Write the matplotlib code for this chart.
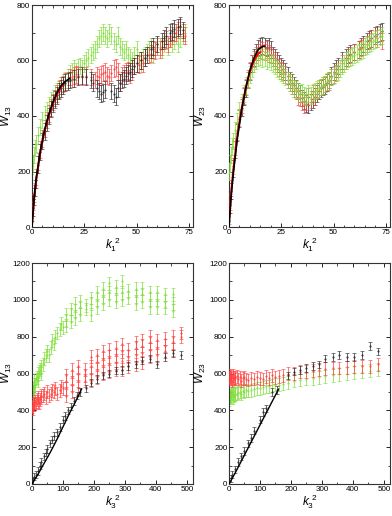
import matplotlib
matplotlib.use("Agg")
import matplotlib.pyplot as plt
from matplotlib.ticker import MultipleLocator

plt.rcParams['font.family'] = ['Liberation Sans', 'DejaVu Sans']
plt.rcParams['mathtext.fontset'] = 'custom'
plt.rcParams['mathtext.it'] = 'Liberation Sans:italic'
plt.rcParams['mathtext.rm'] = 'Liberation Sans'

# ---------------- Top-left: W13 vs k1^2 ----------------
tl_black_x = [0, 0.5, 1, 1.5, 2, 3, 4, 5, 6, 7, 8, 9, 10, 11, 12, 13, 14, 15, 16, 17, 18, 20, 22, 24, 26, 28, 29, 31, 32, 33, 34, 35, 38, 39, 40, 41, 42, 43, 44, 45, 46, 47, 48, 49, 50, 52, 54, 55, 57, 58, 60, 62, 63, 64, 66, 67, 68, 70, 71, 72]
tl_black_y = [20, 70, 110, 140, 170, 225, 270, 310, 345, 375, 400, 425, 445, 460, 475, 490, 500, 510, 520, 525, 530, 535, 540, 545, 540, 530, 520, 500, 490, 480, 485, 495, 490, 480, 470, 500, 520, 530, 535, 545, 555, 560, 570, 580, 590, 600, 610, 620, 640, 650, 660, 670, 680, 690, 700, 705, 715, 720, 725, 710]
tl_red_x = [0, 0.5, 1, 2, 3, 4, 5, 6, 7, 8, 9, 10, 11, 12, 13, 14, 15, 16, 17, 18, 19, 20, 21, 22, 24, 26, 28, 30, 31, 32, 33, 34, 35, 36, 37, 38, 39, 40, 41, 42, 43, 44, 45, 46, 47, 48, 49, 50, 51, 52, 53, 54, 56, 57, 58, 59, 60, 61, 62, 63, 64, 65, 66, 67, 68, 69, 70, 71, 72, 73]
tl_red_y = [50, 90, 120, 180, 235, 280, 320, 355, 385, 410, 430, 450, 465, 480, 495, 510, 515, 525, 530, 540, 535, 545, 550, 545, 540, 545, 540, 530, 545, 540, 550, 555, 560, 545, 540, 555, 570, 575, 560, 520, 545, 555, 560, 565, 550, 560, 580, 590, 585, 600, 590, 610, 620, 625, 640, 635, 650, 640, 650, 670, 675, 660, 680, 690, 700, 700, 710, 720, 700, 690]
tl_green_x = [0, 0.5, 1, 1.5, 2, 3, 4, 5, 6, 7, 8, 9, 10, 11, 12, 13, 14, 15, 16, 17, 18, 19, 20, 21, 22, 23, 24, 25, 26, 27, 28, 29, 30, 31, 32, 33, 34, 35, 36, 37, 38, 39, 40, 41, 42, 43, 44, 45, 46, 47, 48, 49, 50, 51, 52, 53, 54, 55, 56, 57, 58, 59, 60, 61, 62, 63, 64, 65, 66, 67, 68, 69, 70, 71, 72, 73]
tl_green_y = [190, 230, 260, 285, 300, 330, 360, 385, 405, 420, 440, 455, 465, 480, 490, 500, 510, 520, 530, 540, 555, 560, 570, 560, 575, 580, 570, 590, 600, 610, 620, 630, 640, 660, 680, 690, 700, 690, 680, 700, 690, 670, 660, 690, 650, 640, 630, 640, 620, 610, 600, 620, 640, 600, 590, 610, 620, 630, 640, 650, 620, 640, 660, 650, 640, 660, 670, 650, 680, 660, 670, 690, 660, 680, 690, 700]
tl_black_fit_x = [0, 1, 2, 4, 6, 8, 10, 12, 14, 16, 18]
tl_black_fit_y = [0, 105, 175, 275, 350, 405, 450, 485, 510, 525, 535]
tl_red_fit_x = [0, 1, 2, 4, 6, 8, 10, 12, 14, 15]
tl_red_fit_y = [10, 100, 170, 270, 345, 400, 445, 480, 505, 515]

# ---------------- Top-right: W23 vs k1^2 ----------------
tr_black_x = [0, 0.5, 1, 2, 3, 4, 5, 6, 7, 8, 9, 10, 11, 12, 13, 14, 15, 16, 17, 18, 19, 20, 21, 22, 23, 24, 25, 26, 27, 28, 29, 30, 31, 32, 33, 34, 35, 36, 37, 38, 39, 40, 41, 42, 43, 44, 45, 46, 47, 48, 49, 50, 51, 52, 54, 56, 57, 58, 60, 62, 63, 64, 66, 67, 68, 70, 71, 72, 73]
tr_black_y = [20, 80, 130, 210, 280, 340, 390, 430, 470, 500, 530, 560, 590, 610, 630, 645, 650, 655, 650, 645, 650, 640, 620, 610, 600, 590, 580, 570, 560, 545, 530, 520, 510, 500, 490, 480, 465, 455, 445, 440, 450, 460, 470, 480, 490, 500, 505, 510, 520, 530, 545, 560, 570, 580, 600, 610, 620, 625, 630, 640, 650, 660, 670, 675, 680, 690, 695, 700, 705]
tr_red_x = [0, 0.5, 1, 2, 3, 4, 5, 6, 7, 8, 9, 10, 11, 12, 13, 14, 15, 16, 17, 18, 19, 20, 21, 22, 23, 24, 25, 26, 27, 28, 29, 30, 31, 32, 33, 34, 35, 36, 37, 38, 39, 40, 41, 42, 43, 44, 45, 46, 47, 48, 49, 50, 51, 52, 54, 56, 57, 58, 60, 62, 63, 64, 66, 67, 68, 70, 71, 72, 73]
tr_red_y = [40, 90, 140, 220, 290, 345, 395, 440, 475, 505, 535, 565, 590, 605, 620, 630, 640, 635, 630, 640, 625, 620, 610, 600, 590, 575, 565, 560, 550, 530, 520, 510, 500, 490, 470, 465, 450, 440, 450, 470, 460, 480, 470, 490, 500, 505, 510, 515, 520, 525, 540, 550, 555, 570, 590, 600, 610, 620, 630, 640, 645, 650, 660, 670, 680, 690, 680, 690, 670]
tr_green_x = [0, 0.5, 1, 1.5, 2, 3, 4, 5, 6, 7, 8, 9, 10, 11, 12, 13, 14, 15, 16, 17, 18, 19, 20, 21, 22, 23, 24, 25, 26, 27, 28, 29, 30, 31, 32, 33, 34, 35, 36, 37, 38, 39, 40, 41, 42, 43, 44, 45, 46, 47, 48, 49, 50, 51, 52, 53, 54, 55, 56, 57, 58, 59, 60, 61, 62, 63, 64, 65, 66, 67, 68, 69, 70, 71, 72, 73]
tr_green_y = [200, 230, 260, 290, 310, 350, 380, 420, 450, 480, 510, 530, 550, 570, 590, 600, 610, 615, 605, 610, 600, 605, 595, 590, 580, 570, 565, 555, 550, 540, 530, 520, 510, 500, 495, 490, 480, 485, 475, 470, 480, 475, 485, 490, 495, 500, 505, 510, 515, 525, 530, 540, 545, 555, 560, 570, 580, 590, 600, 605, 610, 615, 620, 625, 630, 635, 640, 650, 655, 660, 665, 670, 675, 680, 685, 690]
tr_black_fit_x = [0, 1, 2, 4, 6, 8, 10, 12, 14, 16, 17]
tr_black_fit_y = [0, 110, 190, 320, 420, 500, 565, 610, 640, 650, 652]
tr_red_fit_x = [0, 1, 2, 4, 6, 8, 10, 12, 14, 15]
tr_red_fit_y = [20, 120, 200, 330, 425, 500, 560, 600, 625, 630]

# ---------------- Bottom-left: W13 vs k3^2 ----------------
bl_black_x = [0, 3, 8, 12, 18, 25, 30, 38, 45, 50, 58, 65, 72, 80, 90, 100, 108, 115, 125, 135, 145, 155, 175, 190, 210, 230, 250, 270, 290, 310, 335, 355, 380, 405, 430, 455, 480]
bl_black_y = [10, 20, 40, 50, 70, 100, 120, 150, 170, 190, 220, 240, 260, 280, 310, 350, 370, 400, 420, 450, 480, 500, 520, 550, 570, 590, 600, 615, 620, 640, 650, 670, 680, 650, 690, 710, 700]
bl_black_fit_x = [0, 20, 40, 60, 80, 100, 120, 140, 160]
bl_black_fit_y = [0, 55, 115, 175, 240, 310, 380, 445, 515]
bl_red_x = [0, 2, 4, 6, 8, 10, 12, 15, 18, 20, 22, 25, 28, 30, 35, 40, 45, 50, 55, 60, 65, 70, 75, 80, 90, 95, 100,
            110, 110, 110, 110, 130, 130, 130, 130, 150, 150, 150, 150, 170, 170, 170,
            190, 190, 190, 190, 210, 210, 210, 210, 230, 230, 230, 230, 250, 250, 250, 250,
            270, 270, 270, 270, 290, 290, 290, 290, 310, 310, 310, 335, 335, 335, 335,
            355, 355, 355, 355, 380, 380, 380, 380, 405, 405, 405, 430, 430, 430, 455, 455, 455, 480, 480]
bl_red_y = [420, 430, 410, 440, 430, 450, 440, 460, 450, 470, 440, 460, 480, 470, 480, 490, 470, 500, 480, 490, 510, 500, 520, 490, 510, 530, 520,
            480, 520, 560, 590, 500, 540, 580, 620, 520, 560, 600, 640, 560, 590, 620,
            560, 600, 640, 690, 580, 620, 660, 700, 600, 640, 680, 720, 610, 650, 690, 730,
            620, 660, 700, 740, 620, 670, 720, 760, 640, 690, 730, 650, 700, 740, 770,
            660, 710, 750, 780, 690, 730, 770, 800, 700, 740, 780, 720, 750, 790, 730, 770, 800, 800, 820]
bl_green_x = [0, 1, 2, 3, 5, 6, 8, 10, 12, 15, 18, 20, 22, 25, 28, 30, 35, 40, 45, 50, 55, 60, 65, 70, 75, 80, 90, 95, 100,
              110, 110, 110, 125, 125, 125, 140, 140, 140, 155, 155, 155, 175, 175,
              190, 190, 190, 210, 210, 210, 230, 230, 230, 250, 250, 250, 270, 270, 270,
              290, 290, 290, 310, 310, 335, 335, 335, 355, 355, 355, 380, 380, 380,
              405, 405, 405, 430, 430, 430, 455, 455, 455]
bl_green_y = [440, 480, 500, 520, 540, 490, 560, 540, 570, 580, 600, 560, 610, 620, 640, 600, 650, 680, 700, 720, 700, 740, 780, 760, 800, 820, 840, 870, 850,
              860, 890, 920, 880, 920, 950, 900, 940, 980, 920, 960, 990, 950, 970,
              920, 980, 1010, 960, 1000, 1040, 980, 1020, 1060, 1000, 1040, 1090, 990, 1030, 1070,
              1000, 1040, 1100, 1010, 1050, 980, 1020, 1060, 990, 1030, 1060, 960, 1000, 1040,
              960, 1000, 1040, 960, 990, 1030, 940, 980, 1030]

# ---------------- Bottom-right: W23 vs k3^2 ----------------
br_black_x = [0, 5, 10, 20, 30, 40, 50, 60, 70, 80, 100, 110, 120, 140, 155, 190, 210, 230, 250, 270, 290, 310, 335, 355, 380, 405, 430, 455, 480]
br_black_y = [10, 30, 50, 80, 120, 150, 180, 220, 250, 290, 350, 390, 410, 500, 510, 590, 610, 620, 630, 640, 650, 680, 690, 700, 690, 690, 700, 750, 720]
br_black_fit_x = [0, 20, 40, 60, 80, 100, 120, 140, 160]
br_black_fit_y = [0, 60, 125, 190, 255, 320, 385, 450, 515]
br_red_x = [0, 2, 4, 6, 8, 10, 12, 14, 16, 18, 20, 25, 30, 35, 40, 45, 50, 55, 60, 70, 80, 90, 100, 110, 120, 130, 140, 150, 160, 175, 190, 210, 230, 250, 270, 290, 310, 335, 355, 380, 405, 430, 455, 480]
br_red_y = [580, 570, 590, 575, 585, 560, 580, 590, 570, 580, 575, 585, 570, 580, 560, 575, 580, 570, 565, 575, 570, 580, 575, 570, 585, 575, 590, 580, 585, 590, 600, 600, 610, 610, 615, 620, 625, 630, 630, 635, 640, 640, 640, 650]
br_green_x = [0, 2, 4, 6, 8, 10, 12, 14, 16, 18, 20, 25, 30, 35, 40, 45, 50, 55, 60, 70, 80, 90, 100, 110, 120, 130, 140, 150, 160, 175, 190, 210, 230, 250, 270, 290, 310, 335, 355, 380, 405, 430, 455, 480]
br_green_y = [460, 480, 470, 490, 475, 485, 470, 495, 480, 490, 485, 490, 495, 500, 490, 505, 500, 510, 505, 510, 515, 520, 520, 525, 530, 530, 535, 540, 540, 545, 550, 560, 565, 570, 575, 580, 585, 590, 595, 600, 605, 610, 615, 620]

top_err = 30
bot_err = 35
black_bot_err = 20

top_xticks = [0, 25, 50, 75]
top_yticks = [0, 200, 400, 600, 800]
bot_xticks = [0, 100, 200, 300, 400, 500]
bot_yticks = [0, 200, 400, 600, 800, 1000, 1200]

BLACK = '#2a2a2a'
RED = '#ff4040'
GREEN = '#80e03a'

W, H = 392, 516
fig = plt.figure(figsize=(W / 100, H / 100), dpi=100)


def make_ax(l, r, t, b):
    return fig.add_axes([l / W, 1 - b / H, (r - l) / W, (b - t) / H])


def eb(ax, x, y, err, color, z):
    ax.errorbar(x, y, yerr=err, fmt='.', color=color, ecolor=color, markersize=1.2,
                elinewidth=0.6, capsize=1.2, capthick=0.5, alpha=0.85, zorder=z)


def style(ax, xt, yt, xmin, ymin, xlim, ylim, ylab, xlab, label_offset_px):
    ax.set_xlim(*xlim)
    ax.set_ylim(*ylim)
    ax.set_xticks(xt)
    ax.set_yticks(yt)
    ax.xaxis.set_minor_locator(MultipleLocator(xmin))
    ax.yaxis.set_minor_locator(MultipleLocator(ymin))
    ax.tick_params(which='both', direction='in', top=True, right=True, labelsize=5.8, pad=1.2)
    ax.tick_params(which='major', length=3, width=0.6)
    ax.tick_params(which='minor', length=1.8, width=0.5)
    for s in ax.spines.values():
        s.set_linewidth(0.8)
        s.set_color('#333333')
    ax.set_ylabel(ylab, fontsize=8.5)
    ax.set_xlabel(xlab, fontsize=8.5, labelpad=0)
    width_px = ax.get_position().width * W
    ax.yaxis.set_label_coords(label_offset_px / width_px, 0.5)


ax1 = make_ax(32, 193, 5, 227)
eb(ax1, tl_green_x, tl_green_y, top_err, GREEN, 2)
eb(ax1, tl_red_x, tl_red_y, top_err, RED, 3)
eb(ax1, tl_black_x, tl_black_y, top_err, BLACK, 4)
ax1.plot(tl_red_fit_x, tl_red_fit_y, color='red', lw=1.4, zorder=5)
ax1.plot(tl_black_fit_x, tl_black_fit_y, color='black', lw=1.2, zorder=6)
style(ax1, top_xticks, top_yticks, 5, 100, (0, 77), (0, 800), r'$W_{13}$', r'$k_1^{\ 2}$', -18)

ax2 = make_ax(229, 390, 5, 227)
eb(ax2, tr_black_x, tr_black_y, top_err, BLACK, 2)
eb(ax2, tr_red_x, tr_red_y, top_err, RED, 3)
eb(ax2, tr_green_x, tr_green_y, top_err, GREEN, 4)
ax2.plot(tr_red_fit_x, tr_red_fit_y, color='red', lw=1.4, zorder=5)
ax2.plot(tr_black_fit_x, tr_black_fit_y, color='black', lw=1.2, zorder=6)
style(ax2, top_xticks, top_yticks, 5, 100, (0, 77), (0, 800), r'$W_{23}$', r'$k_1^{\ 2}$', -21)

ax3 = make_ax(32, 193, 263, 484)
eb(ax3, bl_green_x, bl_green_y, bot_err, GREEN, 2)
eb(ax3, bl_red_x, bl_red_y, bot_err, RED, 3)
eb(ax3, bl_black_x, bl_black_y, black_bot_err, BLACK, 4)
ax3.plot(bl_black_fit_x, bl_black_fit_y, color='black', lw=1.0, zorder=6)
style(ax3, bot_xticks, bot_yticks, 50, 100, (0, 520), (0, 1200), r'$W_{13}$', r'$k_3^{\ 2}$', -18)

ax4 = make_ax(229, 390, 263, 484)
eb(ax4, br_green_x, br_green_y, bot_err, GREEN, 2)
eb(ax4, br_red_x, br_red_y, bot_err, RED, 3)
eb(ax4, br_black_x, br_black_y, black_bot_err, BLACK, 4)
ax4.plot(br_black_fit_x, br_black_fit_y, color='black', lw=1.0, zorder=6)
style(ax4, bot_xticks, bot_yticks, 50, 100, (0, 520), (0, 1200), r'$W_{23}$', r'$k_3^{\ 2}$', -21)

fig.savefig('out.png', dpi=100)
